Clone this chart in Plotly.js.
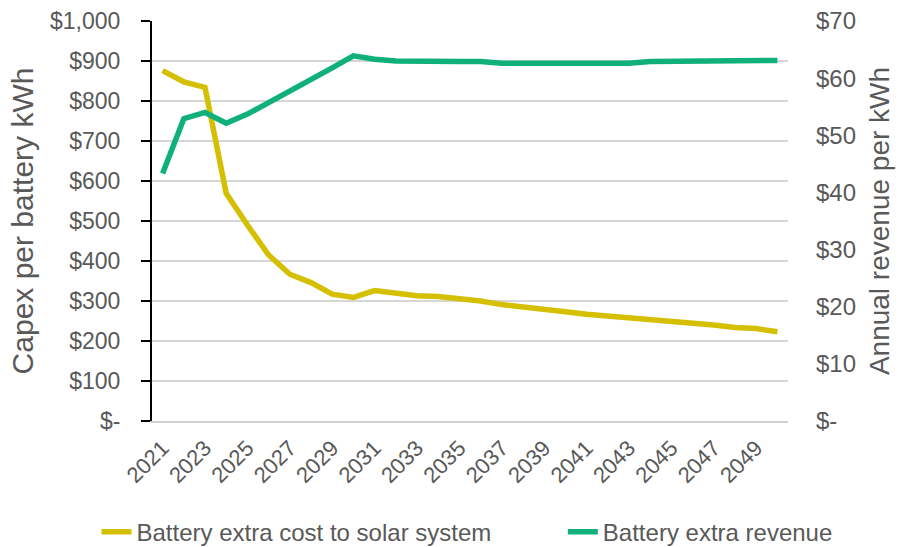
<!DOCTYPE html>
<html><head><meta charset="utf-8">
<script src="https://cdn.plot.ly/plotly-3.0.1.min.js"></script>
<style>html,body{margin:0;padding:0;background:#fff}#chart{width:902px;height:547px}</style>
</head><body><div id="chart"></div>
<script>
const years = [2021,2022,2023,2024,2025,2026,2027,2028,2029,2030,2031,2032,2033,2034,2035,2036,2037,2038,2039,2040,2041,2042,2043,2044,2045,2046,2047,2048,2049,2050];
const extraCost = [876,848,834,569,490,415,367,346,317,309,326,319,313,311,306,300,291,284,277,273,267,263,258,252,249,244,240,234,231,223];
const extraRevenue = [43.3,52.9,54.0,52.1,53.7,55.7,57.7,59.6,61.8,63.9,63.3,63.0,62.9,62.9,62.9,62.9,62.6,62.6,62.6,62.6,62.6,62.6,62.6,62.9,62.9,62.9,62.9,62.9,63.1,63.1];
const leftTickVals = [0,100,200,300,400,500,600,700,800,900,1000];
const leftTickText = ['$-','$100','$200','$300','$400','$500','$600','$700','$800','$900','$1,000'];
const rightTickVals = [0,10,20,30,40,50,60,70];
const rightTickText = ['$-','$10','$20','$30','$40','$50','$60','$70'];
const xTickVals = [2021,2023,2025,2027,2029,2031,2033,2035,2037,2039,2041,2043,2045,2047,2049];

const fam = '"Liberation Sans", Arial, sans-serif';
const grey = '#595959';
const f = s => ({family:fam, color:grey, size:s});
const traces = [
  {x:years, y:extraRevenue, type:'scatter', mode:'lines', name:'Battery extra revenue',
   line:{color:'#0FB07A', width:5.5}, yaxis:'y2', legend:'legend2'},
  {x:years, y:extraCost, type:'scatter', mode:'lines', name:'Battery extra cost to solar system',
   line:{color:'#D4BF00', width:5.5}, yaxis:'y', legend:'legend'}
];
const legBase = {orientation:'h', xref:'container', yref:'container', xanchor:'left', yanchor:'middle',
                 y:0.027, font:f(24), bgcolor:'rgba(0,0,0,0)'};
const layout = {
  width:902, height:547,
  margin:{l:152, r:114, t:21, b:126},
  paper_bgcolor:'#fff', plot_bgcolor:'#fff',
  font:f(22),
  showlegend:true,
  legend:Object.assign({}, legBase, {x:0.107}),
  legend2:Object.assign({}, legBase, {x:0.624}),
  xaxis:{range:[2020.5,2050.5], tickvals:xTickVals, tickangle:-45, showgrid:false, zeroline:false,
         showline:true, linecolor:'#d0d0d0', linewidth:1.5, ticks:'', ticklabelstandoff:4,
         tickfont:f(22)},
  yaxis:{range:[0,1000], tickvals:leftTickVals, ticktext:leftTickText, showgrid:true, gridcolor:'#d6d6d6', gridwidth:1.5,
         zeroline:false, showline:true, linecolor:'#000', linewidth:2, ticks:'outside', ticklen:9, tickwidth:2, tickcolor:'#000',
         ticklabelstandoff:16, tickfont:f(23),
         title:{text:'Capex per battery kWh', font:f(30), standoff:8}},
  yaxis2:{range:[0,70], overlaying:'y', side:'right', tickvals:rightTickVals, ticktext:rightTickText, showgrid:false,
          zeroline:false, showline:false, ticks:'', ticklabelstandoff:27, tickfont:f(24),
          title:{text:'Annual revenue per kWh', font:f(28), standoff:14}}
};
Plotly.newPlot('chart', traces, layout, {displayModeBar:false, staticPlot:true});
</script></body></html>
